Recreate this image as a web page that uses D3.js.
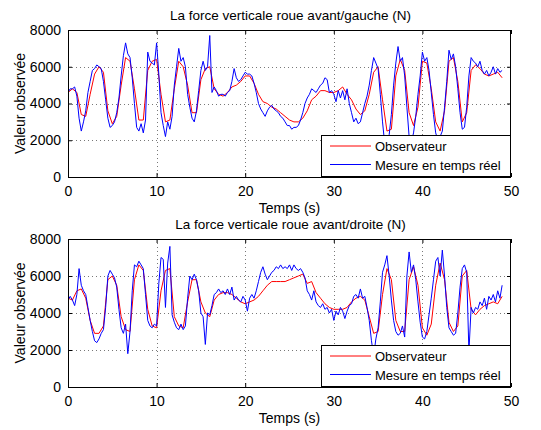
<!DOCTYPE html>
<html><head><meta charset="utf-8">
<script src="https://cdn.jsdelivr.net/npm/d3@7"></script>
<style>body{margin:0;background:#fff;} text{font-family:"Liberation Sans",Arial,sans-serif;}</style>
</head><body>
<svg id="c" width="541" height="430"></svg>
<script>
// ---- Data ----
const titles = ["La force verticale roue avant/gauche (N)", "La force verticale roue avant/droite (N)"];
const xLabel = "Temps (s)";
const yLabel = "Valeur observée";
const seriesNames = ["Observateur", "Mesure en temps réel"];
const xTicks = [0, 10, 20, 30, 40, 50];
const yTicks = [0, 2000, 4000, 6000, 8000];
const obsStep = 0.5;   // s between Observateur samples
const mesStep = 0.25;  // s between Mesure samples

// Top: avant/gauche
const obsGauche = [4600,4800,4600,3400,3300,4500,5600,6000,5700,3600,2900,3300,5000,6500,6300,4800,3100,3100,5800,6300,
6400,4500,3000,3100,4800,6300,6000,5000,3500,3500,5300,5900,6000,4800,4500,4400,4600,4900,5000,5200,
5500,5500,5100,4500,4100,4000,3800,3700,3500,3300,3100,3000,3000,3200,3600,4200,4400,4700,4700,4600,
4600,4700,4900,4500,4200,3700,3400,3600,4500,5700,6000,4200,2500,2600,5500,6400,5800,3500,2800,3800,
6300,6200,4800,3000,2500,3600,6300,6500,5200,3000,3500,5800,6100,5900,5600,5500,5600,5700,5400];
const mesGauche = [
4600,4800,4800,4900, 4400,3200,2500,3000, 3600,4600,5200,5800, 5900,6100,6000,5900, 5200,4200,3200,2700,
2800,3000,3500,4300, 5500,6600,7300,6700, 6500,5400,4000,2700, 2500,2900,2400,3100, 6800,6300,6200,6100,
7300,5600,3500,2800, 2200,3000,2600,3300, 5000,6000,7000,6300, 6500,6000,4500,3800, 3200,3000,3600,4700,
5800,6300,5800,6000, 7700,4600,4900,4700, 4400,4500,4500,4400, 4600,4700,5200,5900, 5400,5200,5300,5500,
5700,5600,5600,5500, 5100,4600,4000,3700, 3500,3300,3600,3800, 3900,3700,3600,3500, 3300,3200,3000,2800,
2800,2600,2700,2700, 2800,3100,3500,4000, 4300,4500,4800,4700, 4600,4800,5000,5100, 5400,5300,4600,4700,
4500,4100,4700,4300, 4700,4200,4800,4000, 3500,3000,3200,2900, 3000,3500,4000,4400, 5000,5800,6500,6200,
5900,4500,3000,1800, 1600,2300,3400,5000, 6200,7100,6300,6500, 5500,3800,2200,1900, 2400,3300,4500,5500,
6800,6300,6500,5800, 4600,3400,2400,2000, 2200,2500,3800,5200, 6900,6400,6700,6000, 4800,3500,2600,2700,
3800,5500,6500,6300, 6200,6000,6300,5800, 5600,5800,5500,5700, 6000,5600,5900,5700, 5800];

// Bottom: avant/droite
const obsDroite = [4800,4700,5200,5300,4800,3600,2900,2900,3300,5800,6000,5500,3800,3100,3000,5800,6600,6300,4200,3300,
3200,5200,6300,6400,3800,3300,3200,4600,5800,5800,4600,4000,3800,4700,5000,5100,5100,5000,4800,4600,
4500,4600,4700,4900,5200,5500,5700,5700,5700,5700,5800,5900,6000,6100,5600,5700,5100,4800,4500,4300,
4200,4200,4200,4300,4600,4800,4900,4700,3800,2900,3000,5000,6400,5800,3600,3000,3000,5800,6500,5500,
3200,2800,3400,5500,6700,5800,3500,3000,3300,6000,6300,4200,3900,4200,4400,4500,4600,4500,4900];
const mesDroite = [
4700,4900,4700,4400, 5000,6400,5500,5200, 5000,4300,3600,3000, 2500,2400,2600,2900, 3100,4300,6000,6300,
6100,5900,5400,4200, 3200,2900,3400,1800, 3000,5200,6600,6500, 6800,6600,6400,5000, 3600,3300,3200,3400,
3300,5600,7000,6900, 4300,6700,7600,3900, 3500,3200,3100,3400, 3100,3300,4800,6000, 5800,6100,5800,5200,
4000,3800,2300,4000, 3900,4400,5000,5100, 5300,5100,5200,5000, 5300,5000,5400,4700, 4900,4700,4600,4900,
4700,4100,4800,5000, 4800,5200,5700,6200, 6500,6100,5800,6000, 6200,6300,6500,6400, 6600,6400,6500,6400,
6600,6300,6600,6400, 6300,6400,6200,5900, 5200,5000,4700,5200, 4600,4400,4300,4500, 4200,4300,4000,4200,
3600,4100,3900,4300, 4100,3700,4100,4400, 4500,4900,5000,4800, 5300,4800,4900,4300, 3600,2500,1700,2600,
3200,4600,6200,6600, 7100,6000,4700,3600, 3000,2800,2900,3300, 2700,6000,7300,6200, 6600,5800,4600,3500,
2700,2600,3000,3900, 4800,5800,6800,7000, 6000,7400,6000,4300, 3200,3000,2800,2900, 4000,5400,6400,6600,
6200,1900,4300,4000, 4300,4200,4600,4400, 4800,4200,4900,4700, 5000,4600,5200,4800, 5500];

const panels = [
  {title: titles[0], obs: obsGauche, mes: mesGauche, top: 30, bottom: 177},
  {title: titles[1], obs: obsDroite, mes: mesDroite, top: 239, bottom: 387}
];
const left = 68, right = 511;
const svg = d3.select("#c");
const FONT = "'Liberation Sans', Arial, sans-serif";

panels.forEach(p => {
  const x = d3.scaleLinear().domain([0, 50]).range([left, right]);
  const y = d3.scaleLinear().domain([0, 8000]).range([p.bottom, p.top]);
  const g = svg.append("g");

  // grid
  g.selectAll(".gx").data(xTicks.slice(1, -1)).join("line")
    .attr("x1", d => Math.round(x(d)) + 0.5).attr("x2", d => Math.round(x(d)) + 0.5)
    .attr("y1", p.top).attr("y2", p.bottom)
    .attr("stroke", "#555").attr("stroke-width", 0.8).attr("stroke-dasharray", "1,3");
  g.selectAll(".gy").data(yTicks.slice(1, -1)).join("line")
    .attr("y1", d => Math.round(y(d)) + 0.5).attr("y2", d => Math.round(y(d)) + 0.5)
    .attr("x1", left).attr("x2", right)
    .attr("stroke", "#555").attr("stroke-width", 0.8).attr("stroke-dasharray", "1,3");

  // lines
  const lineObs = d3.line().x((d, i) => x(i * obsStep)).y(d => y(d));
  const lineMes = d3.line().x((d, i) => x(i * mesStep)).y(d => y(d));
  const clipId = "clip" + p.top;
  svg.append("clipPath").attr("id", clipId).append("rect")
    .attr("x", left).attr("y", p.top).attr("width", right - left).attr("height", p.bottom - p.top);
  const lg = g.append("g").attr("clip-path", `url(#${clipId})`);
  lg.append("path").datum(p.obs).attr("d", lineObs).attr("fill", "none")
    .attr("stroke", "#ff0000").attr("stroke-width", 1).attr("stroke-linejoin", "round");
  lg.append("path").datum(p.mes).attr("d", lineMes).attr("fill", "none")
    .attr("stroke", "#0000ff").attr("stroke-width", 1).attr("stroke-linejoin", "round");

  // axes
  const fmt = d3.format("d");
  g.append("g").attr("transform", `translate(0,${p.bottom})`)
    .call(d3.axisBottom(x).tickValues(xTicks).tickFormat(fmt).tickSize(-4).tickPadding(9));
  g.append("g").attr("transform", `translate(${left},0)`)
    .call(d3.axisLeft(y).tickValues(yTicks).tickFormat(fmt).tickSize(-4).tickPadding(7));
  g.append("g").attr("transform", `translate(0,${p.top})`)
    .call(d3.axisTop(x).tickValues(xTicks).tickSize(-4).tickFormat(""));
  g.append("g").attr("transform", `translate(${right},0)`)
    .call(d3.axisRight(y).tickValues(yTicks).tickSize(-4).tickFormat(""));
  g.selectAll(".domain").remove();
  g.selectAll(".tick line").attr("stroke", "#000");
  g.selectAll(".tick text").attr("font-size", 14).attr("fill", "#000").style("font-family", FONT);
  g.append("rect").attr("x", left + 0.5).attr("y", p.top + 0.5)
    .attr("width", right - left - 1).attr("height", p.bottom - p.top)
    .attr("fill", "none").attr("stroke", "#000").attr("stroke-width", 1);

  // titles
  g.append("text").attr("x", (left + right) / 2 + 1).attr("y", p.top - 10)
    .attr("text-anchor", "middle").attr("font-size", 13.5).text(p.title);
  g.append("text").attr("x", (left + right) / 2).attr("y", p.bottom + 36)
    .attr("text-anchor", "middle").attr("font-size", 14).text(xLabel);
  g.append("text").attr("transform", `translate(25,${(p.top + p.bottom) / 2}) rotate(-90)`)
    .attr("text-anchor", "middle").attr("font-size", 14).text(yLabel);

  // legend
  const lx = 321, lw = right - lx, lh = 42, ly = p.bottom - lh;
  const leg = g.append("g");
  leg.append("rect").attr("x", lx + 0.5).attr("y", ly + 0.5).attr("width", lw - 1).attr("height", lh - 1)
    .attr("fill", "#fff").attr("stroke", "#000").attr("stroke-width", 1);
  const colors = ["#ff0000", "#0000ff"];
  seriesNames.forEach((n, i) => {
    const yy = ly + 11 + i * 18.5;
    leg.append("line").attr("x1", lx + 9).attr("x2", lx + 50).attr("y1", yy).attr("y2", yy)
      .attr("stroke", colors[i]).attr("stroke-width", 1);
    leg.append("text").attr("x", lx + 54).attr("y", yy + 5).attr("font-size", 13).text(n);
  });
});
</script>
</body></html>
